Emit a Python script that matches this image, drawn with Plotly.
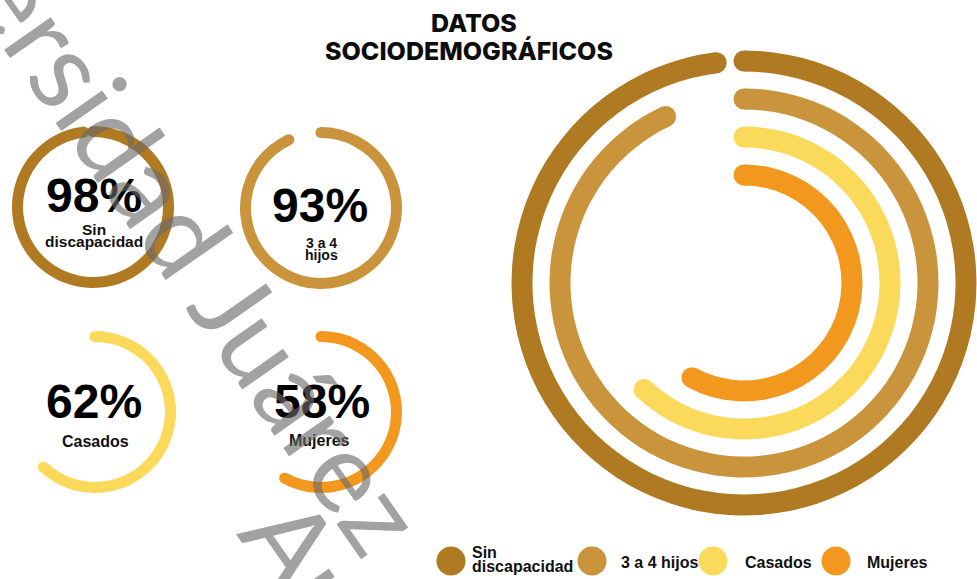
import plotly.graph_objects as go

# ---- data ---------------------------------------------------------------
categories = ["Sin discapacidad", "3 a 4 hijos", "Casados", "Mujeres"]
percent_values = [98, 93, 62, 58]
donut_labels = [["Sin", "discapacidad"], ["3 a 4", "hijos"], ["Casados"], ["Mujeres"]]
legend_labels = [["Sin", "discapacidad"], ["3 a 4 hijos"], ["Casados"], ["Mujeres"]]
colors = ["#B07A22", "#C9943C", "#FBD95A", "#F2981F"]

# ---- layout constants (pixels) -----------------------------------------
W, H = 977, 579
small_centers = [(93, 207), (321, 208), (95, 412), (321, 412)]
small_half = 85          # half-size of each small polar domain, in px
small_ring_r = 75.5      # centre line radius of small rings
small_thick = 11

big_center = (744, 283)
big_half = 233
big_ring_r = [222, 184, 146, 108]
big_thick = 21

pct_pos = [(94, 196), (320, 205), (94, 401), (322, 401)]
lab_pos = [[(93.5, 229.5), (93.5, 241.5)], [(321, 243), (321, 255)],
           [(95, 441)], [(319, 440)]]
lab_size = [15.5, 14, 16, 16]

legend_cx = [451, 592, 713, 836]
legend_tx = [470, 619, 743, 865]
legend_cy = 561
legend_dot = 29


def px(x):
    return x / W


def py(y):
    return 1 - y / H


fig = go.Figure()
layout_polars = {}


def add_ring(polar_id, value, radius, thick, color):
    sweep = value * 3.6
    fig.add_trace(go.Barpolar(
        r=[thick], base=[radius - thick / 2], theta=[sweep / 2], width=[sweep],
        marker=dict(color=color, line=dict(width=0)),
        subplot=polar_id, showlegend=False, hoverinfo="skip"))
    # rounded ends of the arc
    fig.add_trace(go.Scatterpolar(
        r=[radius, radius], theta=[0, sweep], mode="markers",
        marker=dict(size=thick, color=color, line=dict(width=0)),
        subplot=polar_id, showlegend=False, hoverinfo="skip"))


def polar_layout(cx, cy, half, xdom=None):
    if xdom is None:
        xdom = [px(cx - half), px(cx + half)]
    return dict(
        domain=dict(x=xdom, y=[py(cy + half), py(cy - half)]),
        bgcolor="rgba(0,0,0,0)",
        barmode="overlay",
        radialaxis=dict(range=[0, half], visible=False),
        angularaxis=dict(visible=False, rotation=90, direction="clockwise"),
    )


# small single-value rings
for i, (cx, cy) in enumerate(small_centers):
    pid = "polar" if i == 0 else f"polar{i + 1}"
    layout_polars[pid] = polar_layout(cx, cy, small_half)
    add_ring(pid, percent_values[i], small_ring_r, small_thick, colors[i])

# large concentric radial chart
pid_big = "polar5"
bx, by = big_center
layout_polars[pid_big] = polar_layout(bx, by, big_half,
                                      xdom=[px(bx - big_half), min(1.0, px(bx + big_half))])
for i, v in enumerate(percent_values):
    add_ring(pid_big, v, big_ring_r[i], big_thick, colors[i])

# legend dots drawn on a hidden pixel-scaled cartesian axis
fig.add_trace(go.Scatter(
    x=legend_cx, y=[legend_cy] * len(legend_cx), mode="markers",
    marker=dict(size=legend_dot, color=colors, line=dict(width=0)),
    showlegend=False, hoverinfo="skip"))

annotations = []
num_font = dict(family="Liberation Sans", size=48, color="#000000", weight="bold")
for i, v in enumerate(percent_values):
    x, y = pct_pos[i]
    annotations.append(dict(text=f"{v}%", x=px(x), y=py(y), xref="paper", yref="paper",
                            xanchor="center", yanchor="middle", showarrow=False,
                            font=num_font))
    for line, (lx, ly) in zip(donut_labels[i], lab_pos[i]):
        annotations.append(dict(text=line, x=px(lx), y=py(ly), xref="paper", yref="paper",
                                xanchor="center", yanchor="middle", showarrow=False,
                                font=dict(family="Liberation Sans", size=lab_size[i],
                                          color="#111111", weight="bold")))

# legend labels
for i, lines in enumerate(legend_labels):
    if len(lines) == 2:
        ys = [552.5, 566]
    else:
        ys = [562]
    for line, ly in zip(lines, ys):
        annotations.append(dict(text=line, x=px(legend_tx[i]), y=py(ly), xref="paper",
                                yref="paper", xanchor="left", yanchor="middle",
                                showarrow=False,
                                font=dict(family="Liberation Sans", size=16,
                                          color="#111111", weight="bold")))

# title
title_font = dict(family="Inter", size=25, color="#0d0d0d", weight=800)
annotations.append(dict(text="DATOS", x=px(474), y=py(22.5), xref="paper", yref="paper",
                        xanchor="center", yanchor="middle", showarrow=False, font=title_font))
annotations.append(dict(text="SOCIODEMOGRÁFICOS", x=px(469), y=py(51), xref="paper",
                        yref="paper", xanchor="center", yanchor="middle", showarrow=False,
                        font=title_font))

# diagonal watermark
wm_font = dict(family="Lato", size=112, color="rgba(105,105,105,0.62)", weight=400)
annotations.append(dict(text="Universidad Juárez", x=px(136), y=py(161), xref="paper",
                        yref="paper", xanchor="center", yanchor="middle", showarrow=False,
                        textangle=55, font=wm_font))
annotations.append(dict(text="Autónoma de Tabasco", x=px(582), y=py(952), xref="paper",
                        yref="paper", xanchor="center", yanchor="middle", showarrow=False,
                        textangle=55, font=wm_font))

fig.update_layout(
    width=W, height=H,
    margin=dict(l=0, r=0, t=0, b=0),
    paper_bgcolor="#ffffff",
    plot_bgcolor="rgba(0,0,0,0)",
    template="none",
    showlegend=False,
    xaxis=dict(range=[0, W], visible=False, domain=[0, 1], fixedrange=True),
    yaxis=dict(range=[H, 0], visible=False, domain=[0, 1], fixedrange=True),
    annotations=annotations,
    **layout_polars,
)

fig.write_html("out.html", config={"displayModeBar": False})
